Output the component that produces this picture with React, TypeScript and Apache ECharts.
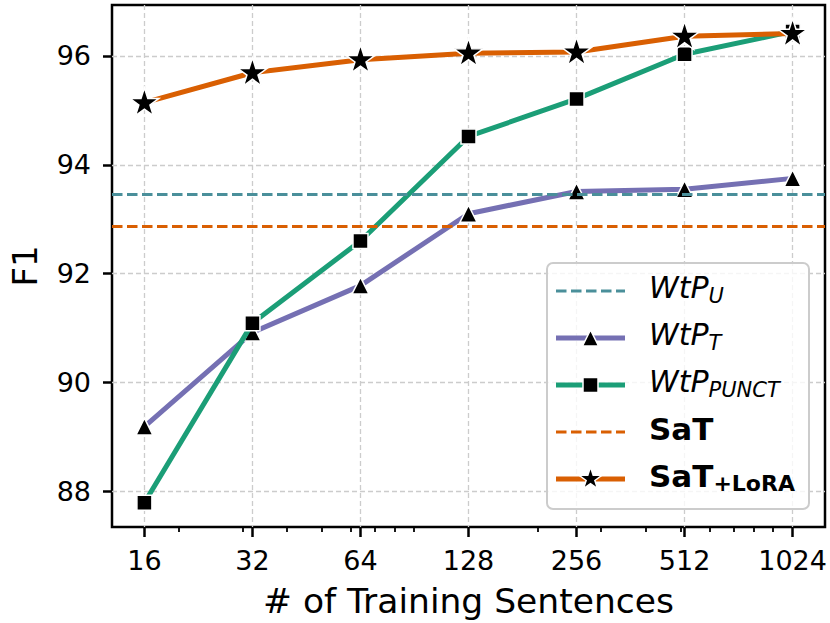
import React, { useEffect, useRef } from "react";
import * as echarts from "echarts";

// ---- data ----
const sentenceCounts = [16, 32, 64, 128, 256, 512, 1024];
const minorTickCounts = [20, 30, 40, 50, 60, 70, 80, 90, 200, 300, 400, 500, 600, 700, 800, 900];
const wtpT = [89.19, 90.92, 91.78, 93.1, 93.51, 93.55, 93.75];
const wtpPunct = [87.79, 91.09, 92.6, 94.52, 95.21, 96.03, 96.45];
const satLora = [95.14, 95.69, 95.93, 96.05, 96.07, 96.36, 96.41];
const wtpUValue = 93.46;
const satValue = 92.87;
const yTicks = [88, 90, 92, 94, 96];

const FONT = "DejaVu Sans";
const C_TEAL = "#4a8f9a";
const C_PURPLE = "#7570b3";
const C_GREEN = "#1b9e77";
const C_ORANGE = "#d95f02";

function starPoints(cx: number, cy: number, R: number, r: number): number[][] {
  const pts: number[][] = [];
  for (let i = 0; i < 10; i++) {
    const rad = i % 2 === 0 ? R : r;
    const a = -Math.PI / 2 + (i * Math.PI) / 5;
    pts.push([cx + rad * Math.cos(a), cy + rad * Math.sin(a)]);
  }
  return pts;
}

const starPath =
  "path://" +
  starPoints(0, 0, 10, 3.82)
    .map((p, i) => (i === 0 ? "M" : "L") + p[0].toFixed(3) + "," + p[1].toFixed(3))
    .join(" ") +
  " Z";

const toPoints = (vals: number[]) => sentenceCounts.map((n, i) => [Math.log2(n), vals[i]]);

export default function App() {
  const ref = useRef<HTMLDivElement>(null);

  useEffect(() => {
    if (!ref.current) return;
    const chart = echarts.init(ref.current, undefined, { renderer: "svg" });

    const majorX = sentenceCounts.map((n) => Math.log2(n));
    const minorX = minorTickCounts.map((n) => Math.log2(n));

    const gridDash = { color: "#cccccc", width: 1.3, type: [5, 3] as any };

    // legend (manual)
    const lx0 = 556;
    const lx1 = 625;
    const lcx = (lx0 + lx1) / 2;
    const rows = [291, 338, 385, 432, 479];
    const textX = 649;
    const italicRich = {
      m: { fontFamily: FONT, fontSize: 30, fontStyle: "italic", fill: "#000", lineHeight: 34, verticalAlign: "top" },
      s: { fontFamily: FONT, fontSize: 21, fontStyle: "italic", fill: "#000", lineHeight: 21, verticalAlign: "bottom" },
    };
    const boldRich = {
      b: { fontFamily: FONT, fontSize: 31, fontWeight: "bold", fill: "#000", lineHeight: 34, verticalAlign: "top" },
      bs: { fontFamily: FONT, fontSize: 22, fontWeight: "bold", fill: "#000", lineHeight: 21, verticalAlign: "bottom" },
    };

    const legendEls: any[] = [
      {
        type: "rect",
        shape: { x: 547, y: 263, width: 262, height: 246, r: 6 },
        style: { fill: "rgba(255,255,255,0.8)", stroke: "#cccccc", lineWidth: 2 },
        z: 100,
      },
      // WtP_U
      {
        type: "line",
        shape: { x1: lx0, y1: rows[0], x2: lx1, y2: rows[0] },
        style: { stroke: C_TEAL, lineWidth: 2.8, lineDash: [10.5, 4.5] },
        z: 101,
      },
      // WtP_T
      {
        type: "line",
        shape: { x1: lx0, y1: rows[1], x2: lx1, y2: rows[1] },
        style: { stroke: C_PURPLE, lineWidth: 5 },
        z: 101,
      },
      {
        type: "polygon",
        shape: { points: [[lcx, rows[1] - 8], [lcx - 8, rows[1] + 8], [lcx + 8, rows[1] + 8]] },
        style: { fill: "#000", stroke: "#fff", lineWidth: 1.5 },
        z: 102,
      },
      // WtP_PUNCT
      {
        type: "line",
        shape: { x1: lx0, y1: rows[2], x2: lx1, y2: rows[2] },
        style: { stroke: C_GREEN, lineWidth: 5 },
        z: 101,
      },
      {
        type: "rect",
        shape: { x: lcx - 7.5, y: rows[2] - 7.5, width: 15, height: 15 },
        style: { fill: "#000", stroke: "#fff", lineWidth: 1.5 },
        z: 102,
      },
      // SaT
      {
        type: "line",
        shape: { x1: lx0, y1: rows[3], x2: lx1, y2: rows[3] },
        style: { stroke: C_ORANGE, lineWidth: 2.8, lineDash: [10.5, 4.5] },
        z: 101,
      },
      // SaT+LoRA
      {
        type: "line",
        shape: { x1: lx0, y1: rows[4], x2: lx1, y2: rows[4] },
        style: { stroke: C_ORANGE, lineWidth: 5 },
        z: 101,
      },
      {
        type: "polygon",
        shape: { points: starPoints(lcx, rows[4], 12, 12 * 0.382) },
        style: { fill: "#000", stroke: "#fff", lineWidth: 1.5 },
        z: 102,
      },
      // texts
      {
        type: "text",
        x: textX,
        y: rows[0] - 1.7,
        style: { text: "{m|WtP}{s|U}", rich: italicRich, verticalAlign: "middle", align: "left" },
        z: 103,
      },
      {
        type: "text",
        x: textX,
        y: rows[1] - 1.7,
        style: { text: "{m|WtP}{s|T}", rich: italicRich, verticalAlign: "middle", align: "left" },
        z: 103,
      },
      {
        type: "text",
        x: textX,
        y: rows[2] - 1.7,
        style: { text: "{m|WtP}{s|PUNCT}", rich: italicRich, verticalAlign: "middle", align: "left" },
        z: 103,
      },
      {
        type: "text",
        x: textX,
        y: rows[3] - 1.5,
        style: { text: "{b|SaT}", rich: boldRich, verticalAlign: "middle", align: "left" },
        z: 103,
      },
      {
        type: "text",
        x: textX,
        y: rows[4] - 1.5,
        style: { text: "{b|SaT}{bs|+LoRA}", rich: boldRich, verticalAlign: "middle", align: "left" },
        z: 103,
      },
    ];

    const markerItem = { color: "#000", borderColor: "#fff", borderWidth: 1.5 };

    chart.setOption({
      animation: false,
      textStyle: { fontFamily: FONT },
      grid: {
        left: 103,
        top: 5,
        right: 5,
        bottom: 96,
        show: true,
        borderColor: "#000",
        borderWidth: 2.5,
        backgroundColor: "transparent",
      },
      xAxis: [
        {
          type: "value",
          min: 3.7,
          max: 10.3,
          position: "bottom",
          axisLine: { show: false },
          axisTick: { show: true, customValues: majorX, length: 10, lineStyle: { color: "#000", width: 2.5 } },
          axisLabel: {
            customValues: majorX,
            formatter: (v: number) => String(Math.round(Math.pow(2, v))),
            fontSize: 27,
            color: "#000",
            margin: 20,
            fontFamily: FONT,
          },
          splitLine: { show: true, lineStyle: gridDash },
          name: "# of Training Sentences",
          nameLocation: "middle",
          nameGap: 56,
          nameTextStyle: { fontSize: 34.5, color: "#000", fontFamily: FONT },
        },
        {
          type: "value",
          min: 3.7,
          max: 10.3,
          position: "bottom",
          axisLine: { show: false },
          axisTick: { show: true, customValues: minorX, length: 5, lineStyle: { color: "#000", width: 1.8 } },
          axisLabel: { show: false },
          splitLine: { show: false },
        },
      ],
      yAxis: {
        type: "value",
        min: 87.345,
        max: 96.935,
        axisLine: { show: false },
        axisTick: { show: true, customValues: yTicks, length: 9, lineStyle: { color: "#000", width: 2.5 } },
        axisLabel: { customValues: yTicks, fontSize: 27, color: "#000", margin: 21, fontFamily: FONT },
        splitLine: { show: true, lineStyle: gridDash },
        name: "F1",
        nameLocation: "middle",
        nameGap: 70,
        nameTextStyle: { fontSize: 34, color: "#000", fontFamily: FONT },
      },
      series: [
        {
          name: "WtP_U",
          type: "line",
          data: [],
          z: 2,
          markLine: {
            silent: true,
            symbol: ["none", "none"],
            label: { show: false },
            lineStyle: { color: C_TEAL, width: 2.8, type: [10.5, 4.5] },
            data: [{ yAxis: wtpUValue }],
          },
        },
        {
          name: "WtP_T",
          type: "line",
          data: toPoints(wtpT),
          z: 3,
          symbol: "triangle",
          symbolSize: 17,
          itemStyle: markerItem,
          lineStyle: { color: C_PURPLE, width: 5, join: "round" },
        },
        {
          name: "WtP_PUNCT",
          type: "line",
          data: toPoints(wtpPunct),
          z: 4,
          symbol: "rect",
          symbolSize: 15,
          itemStyle: markerItem,
          lineStyle: { color: C_GREEN, width: 5, join: "round" },
        },
        {
          name: "SaT",
          type: "line",
          data: [],
          z: 2,
          markLine: {
            silent: true,
            symbol: ["none", "none"],
            label: { show: false },
            lineStyle: { color: C_ORANGE, width: 2.8, type: [10.5, 4.5] },
            data: [{ yAxis: satValue }],
          },
        },
        {
          name: "SaT+LoRA",
          type: "line",
          data: toPoints(satLora),
          z: 5,
          symbol: starPath,
          symbolSize: [29, 28],
          symbolOffset: [0, -1],
          itemStyle: markerItem,
          lineStyle: { color: C_ORANGE, width: 5, join: "round" },
        },
      ],
      graphic: { elements: legendEls },
    });

    return () => chart.dispose();
  }, []);

  return (
    <div
      ref={ref}
      style={{ position: "fixed", left: 0, top: 0, width: 830, height: 623, background: "#fff" }}
    />
  );
}
